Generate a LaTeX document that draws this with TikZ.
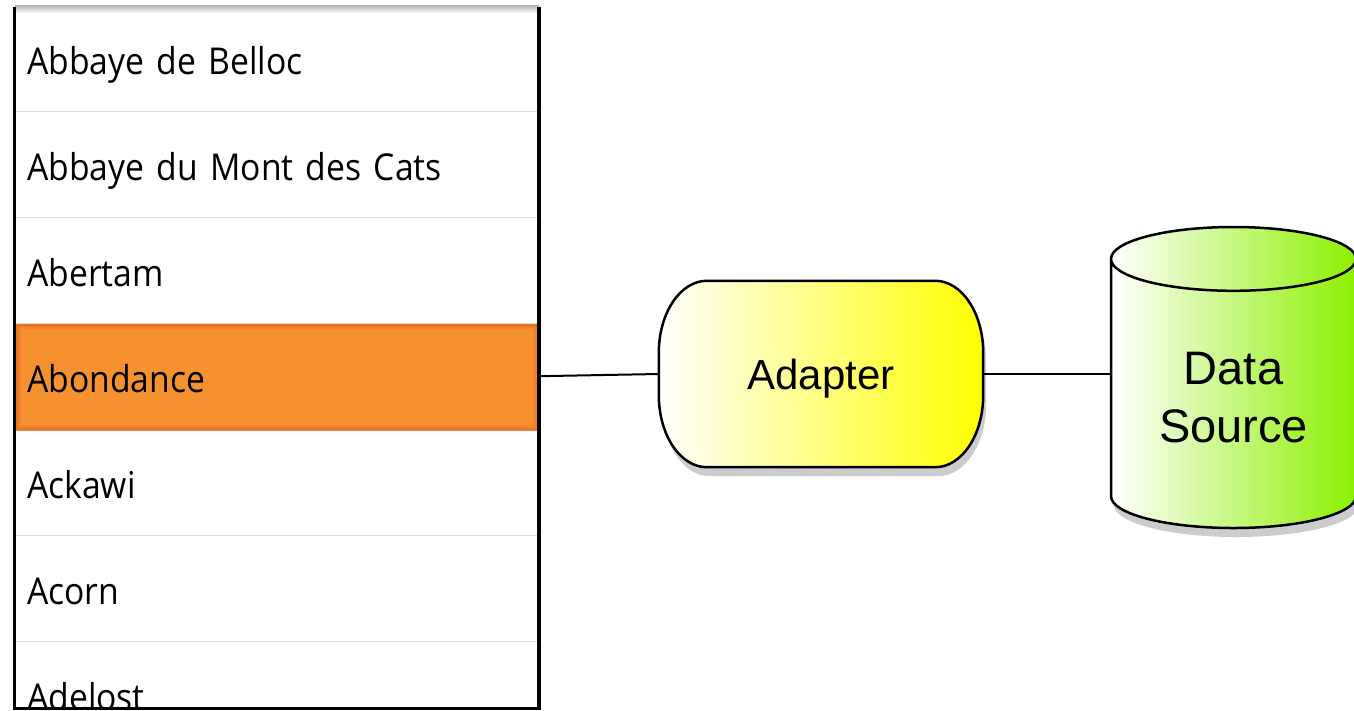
\documentclass[tikz,border=0pt]{standalone}
\usepackage{fontspec}
\setmainfont{Liberation Sans}
\newfontfamily\listfont[FakeStretch=0.91]{Open Sans}
\usetikzlibrary{shapes.geometric,shadows,backgrounds}
\definecolor{rowsep}{HTML}{DEDEDE}
\definecolor{pickorange}{HTML}{F5922F}
\definecolor{pickedge}{HTML}{E5691C}
\definecolor{adaptyellow}{HTML}{FFFF00}
\definecolor{sourcegreen}{HTML}{8CF000}
\begin{document}
\begin{tikzpicture}[x=1pt, y=-1pt,
      listrow/.style={minimum height=106pt, inner ysep=0pt, inner xsep=11pt,
        text width=500pt, text height=32pt, text depth=0pt, align=left,
        anchor=north west, font=\listfont\fontsize{37}{42}\selectfont},
      adapterbox/.style={minimum width=324pt, minimum height=186pt,
        text depth=0pt, font=\fontsize{42}{50}\selectfont},
      softshadow/.style={drop shadow={shadow xshift=3pt, shadow yshift=-9pt,
        opacity=0.4}},
      sourcecyl/.style={draw, line width=2.5pt, cylinder, shape border rotate=90,
        shape aspect=0.41, minimum width=245pt, minimum height=301pt,
        left color=white, right color=sourcegreen, align=center,
        anchor=shape center, softshadow, font=\fontsize{47}{58}\selectfont},
      link/.style={line width=2pt}
    ]
    \useasboundingbox (0,0) rectangle (1354,710);

    % list view
    \begin{scope}
      \clip (15,5) rectangle (539,708);
      \shade[top color=gray!60, bottom color=white] (15,5) rectangle (539,13);
      \begin{scope}
        \clip (16,324) rectangle (538,430);
        \fill[pickorange] (16,324) rectangle (538,430);
        \foreach \w/\o in {10/0.25,6/0.35,3/0.5}
          \draw[pickedge, line width=\w pt, opacity=\o] (16,324) rectangle (538,430);
      \end{scope}
      \foreach \name [count=\i] in {Abbaye de Belloc, Abbaye du Mont des Cats,
          Abertam, Abondance, Ackawi, Acorn, Adelost}
        \node[listrow] (row\i) at (16,{5+106*(\i-1)}) {\name};
      \foreach \i in {1,2,3,5,6}
        \draw[rowsep, line width=1.5pt] (row\i.south west) -- (row\i.south east);
    \end{scope}
    \draw[line width=3.5pt] (14.5,7) -- (14.5,708.5) -- (539,708.5) -- (539,7);

    % adapter, a box with elliptic corners
    \node[adapterbox] (adapter) at (821,374) {Adapter};
    \begin{scope}[on background layer]
      \draw[line width=2.5pt, left color=white, right color=adaptyellow, softshadow]
        ([xshift=48pt]adapter.north west) -- ([xshift=-48pt]adapter.north east)
        arc[start angle=90, end angle=0, x radius=48pt, y radius=72pt]
        -- ([yshift=72pt]adapter.south east)
        arc[start angle=0, end angle=-90, x radius=48pt, y radius=72pt]
        -- ([xshift=48pt]adapter.south west)
        arc[start angle=270, end angle=180, x radius=48pt, y radius=72pt]
        -- ([yshift=-72pt]adapter.north west)
        arc[start angle=180, end angle=90, x radius=48pt, y radius=72pt]
        -- cycle;
    \end{scope}

    \node[sourcecyl] (source) at (1233.5,377.5) {Data\\Source};

    \draw[link] (row4.east) -- (adapter.west);
    \draw[link] (adapter.east) -- (adapter.east -| source.west);

    \end{tikzpicture}
\end{document}
